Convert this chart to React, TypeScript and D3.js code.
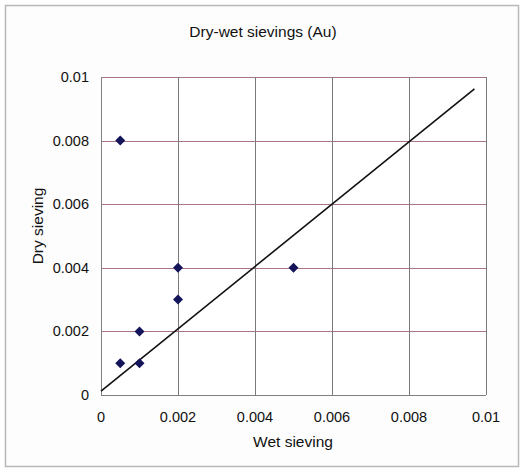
import React, { useEffect, useRef } from 'react';
import * as d3 from 'd3';

// measured points (wet, dry)
const wetValues = [0.0005, 0.0005, 0.001, 0.001, 0.002, 0.002, 0.005];
const dryValues = [0.008, 0.001, 0.001, 0.002, 0.004, 0.003, 0.004];

// fitted line end points
const lineWet = [0, 0.0097];
const lineDry = [0.00012, 0.00963];

const tickValues = [0, 0.002, 0.004, 0.006, 0.008, 0.01];
const tickLabels = ['0', '0.002', '0.004', '0.006', '0.008', '0.01'];

const App: React.FC = () => {
  const svgRef = useRef<SVGSVGElement>(null);

  useEffect(() => {
    if (!svgRef.current) return;
    const svg = d3.select(svgRef.current);
    svg.selectAll('*').remove();

    const width = 522;
    const height = 472;
    const plot = { left: 101, right: 486, top: 77, bottom: 395 };
    const font = '"Liberation Sans", Arial, sans-serif';

    const x = d3.scaleLinear().domain([0, 0.01]).range([plot.left, plot.right]);
    const y = d3.scaleLinear().domain([0, 0.01]).range([plot.bottom, plot.top]);

    svg.append('rect')
      .attr('width', width).attr('height', height).attr('fill', '#ffffff');

    // outer frame
    svg.append('rect')
      .attr('x', 5.5).attr('y', 5.5)
      .attr('width', 513).attr('height', 461)
      .attr('fill', '#fdfdfd')
      .attr('stroke', '#b8b8b8')
      .attr('stroke-width', 1.5);

    // title
    svg.append('text')
      .attr('x', 263).attr('y', 37)
      .attr('text-anchor', 'middle')
      .attr('font-family', font).attr('font-size', 15.5)
      .attr('fill', '#111')
      .text('Dry-wet sievings (Au)');

    // plot background
    svg.append('rect')
      .attr('x', plot.left).attr('y', plot.top)
      .attr('width', plot.right - plot.left).attr('height', plot.bottom - plot.top)
      .attr('fill', '#ffffff');

    // horizontal gridlines (reddish)
    svg.append('g')
      .selectAll('line')
      .data(tickValues.slice(1))
      .enter().append('line')
      .attr('x1', plot.left).attr('x2', plot.right)
      .attr('y1', d => Math.round(y(d)) + 0.5).attr('y2', d => Math.round(y(d)) + 0.5)
      .attr('stroke', '#a87585').attr('stroke-width', 1);

    // vertical gridlines
    svg.append('g')
      .selectAll('line')
      .data(tickValues.slice(1))
      .enter().append('line')
      .attr('x1', d => Math.round(x(d)) + 0.5).attr('x2', d => Math.round(x(d)) + 0.5)
      .attr('y1', plot.top).attr('y2', plot.bottom)
      .attr('stroke', '#7a7a7a').attr('stroke-width', 1);

    // axes lines
    svg.append('line')
      .attr('x1', plot.left + 0.5).attr('x2', plot.left + 0.5)
      .attr('y1', plot.top).attr('y2', plot.bottom)
      .attr('stroke', '#808080');
    svg.append('line')
      .attr('x1', plot.left).attr('x2', plot.right)
      .attr('y1', plot.bottom + 0.5).attr('y2', plot.bottom + 0.5)
      .attr('stroke', '#808080');

    // tick labels
    svg.append('g')
      .selectAll('text')
      .data(tickValues)
      .enter().append('text')
      .attr('x', 89)
      .attr('y', d => y(d) + 5)
      .attr('text-anchor', 'end')
      .attr('font-family', font).attr('font-size', 14.5)
      .attr('fill', '#111')
      .text((_, i) => tickLabels[i]);

    svg.append('g')
      .selectAll('text')
      .data(tickValues)
      .enter().append('text')
      .attr('x', d => x(d))
      .attr('y', 422)
      .attr('text-anchor', 'middle')
      .attr('font-family', font).attr('font-size', 14.5)
      .attr('fill', '#111')
      .text((_, i) => tickLabels[i]);

    // axis titles
    svg.append('text')
      .attr('x', 293).attr('y', 447)
      .attr('text-anchor', 'middle')
      .attr('font-family', font).attr('font-size', 15.5)
      .attr('fill', '#111')
      .text('Wet sieving');

    svg.append('text')
      .attr('transform', 'translate(43,226) rotate(-90)')
      .attr('text-anchor', 'middle')
      .attr('font-family', font).attr('font-size', 15.5)
      .attr('fill', '#111')
      .text('Dry sieving');

    // fitted line
    const lineData = lineWet.map((w, i) => [w, lineDry[i]] as [number, number]);
    svg.append('path')
      .datum(lineData)
      .attr('fill', 'none')
      .attr('stroke', '#111')
      .attr('stroke-width', 1.6)
      .attr('d', d3.line<[number, number]>().x(d => x(d[0])).y(d => y(d[1])));

    // diamond markers
    const points = wetValues.map((w, i) => ({ w, d: dryValues[i] }));
    const diamond = d3.symbol().type(d3.symbolDiamond2).size(64);
    svg.append('g')
      .selectAll('path')
      .data(points)
      .enter().append('path')
      .attr('transform', p => `translate(${x(p.w)},${y(p.d)})`)
      .attr('d', diamond)
      .attr('fill', '#14145a');
  }, []);

  return (
    <svg
      ref={svgRef}
      width={522}
      height={472}
      style={{ position: 'absolute', left: 0, top: 0, display: 'block' }}
    />
  );
};

export default App;
